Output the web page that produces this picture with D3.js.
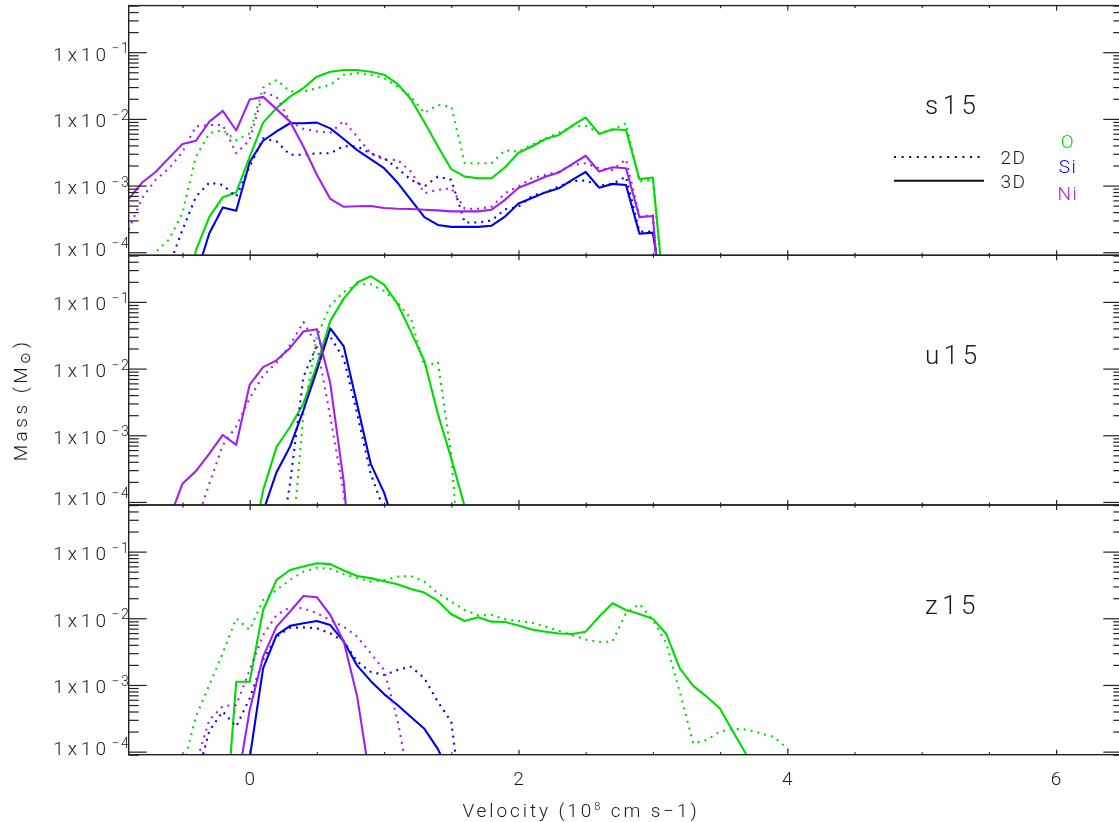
<!DOCTYPE html>
<html>
<head>
<meta charset="utf-8">
<script src="https://cdn.jsdelivr.net/npm/d3@7"></script>
<style>
  body { margin: 0; background: #fff; }
  svg { display: block; will-change: transform; }
  text { font-family: Roboto, "DejaVu Sans", sans-serif; font-weight: 300; fill: #1a1a1a; }
</style>
</head>
<body>
<svg id="chart" width="1119" height="822"></svg>
<script>
// ---- velocity bins (10^8 cm/s) ----
const s15Velocity = [-0.9,-0.8,-0.7,-0.6,-0.5,-0.4,-0.3,-0.2,-0.1,0.0,0.1,0.2,0.3,0.4,0.5,0.6,0.7,0.8,0.9,1.0,
  1.1,1.2,1.3,1.4,1.5,1.6,1.7,1.8,1.9,2.0,2.1,2.2,2.3,2.4,2.5,2.6,2.7,2.8,2.9,3.0,3.1];
const u15Velocity = [-0.6,-0.5,-0.4,-0.3,-0.2,-0.1,0.0,0.1,0.2,0.3,0.4,0.5,0.6,0.7,0.8,0.9,1.0,1.1,1.2,1.3,1.4,1.5,1.6,1.7];
const z15Velocity = [-0.5,-0.4,-0.3,-0.2,-0.1,0.0,0.1,0.2,0.3,0.4,0.5,0.6,0.7,0.8,0.9,1.0,1.1,1.2,1.3,1.4,1.5,
  1.6,1.7,1.8,1.9,2.0,2.1,2.2,2.3,2.4,2.5,2.6,2.7,2.8,2.9,3.0,3.1,3.2,3.3,3.4,3.5,3.6,3.7,3.8,3.9,4.0,4.1];

// ---- mass per bin (solar masses); null = no data ----
// s15
const s15_O_3D = [null,null,null,null,1e-5,1.07e-4,3.4e-4,6.7e-4,7.9e-4,2.7e-3,8.8e-3,1.45e-2,2.16e-2,2.9e-2,4.3e-2,5.1e-2,5.4e-2,5.4e-2,5.1e-2,4.6e-2,
  3.35e-2,1.97e-2,8.9e-3,3.9e-3,1.76e-3,1.36e-3,1.29e-3,1.29e-3,1.88e-3,3.1e-3,3.85e-3,5.0e-3,5.75e-3,7.9e-3,1.05e-2,5.95e-3,7.0e-3,6.8e-3,1.25e-3,1.32e-3,1e-5];
const s15_O_2D = [null,1e-5,1.0e-4,1.55e-4,3.85e-4,2.7e-3,6.1e-3,6.8e-3,4.8e-3,6.1e-3,2.95e-2,3.85e-2,2.57e-2,2.57e-2,2.9e-2,3.25e-2,4.6e-2,4.85e-2,4.6e-2,4.1e-2,
  3.05e-2,2.16e-2,1.22e-2,1.62e-2,1.53e-2,2.16e-3,2.16e-3,2.16e-3,3.4e-3,3.2e-3,4.1e-3,5.1e-3,6.2e-3,7.7e-3,7.9e-3,6.2e-3,6.8e-3,8.6e-3,1.15e-3,1.23e-3,1e-5];
const s15_Si_3D = [null,null,null,null,null,4.4e-5,1.93e-4,4.7e-4,4.2e-4,2.24e-3,4.7e-3,6.5e-3,8.6e-3,8.6e-3,8.8e-3,7.2e-3,5.0e-3,3.4e-3,2.5e-3,1.82e-3,
  1.11e-3,6.1e-4,3.36e-4,2.57e-4,2.4e-4,2.4e-4,2.4e-4,2.5e-4,3.43e-4,5.4e-4,6.5e-4,7.9e-4,9.1e-4,1.22e-3,1.6e-3,9.3e-4,1.06e-3,1.02e-3,1.89e-4,1.97e-4,1e-5];
const s15_Si_2D = [null,null,null,6.2e-5,2.17e-4,6.8e-4,1.11e-3,1.02e-3,6.8e-4,1.93e-3,5.1e-3,4.6e-3,2.9e-3,2.9e-3,3.05e-3,3.05e-3,3.9e-3,3.85e-3,3.05e-3,2.57e-3,
  1.82e-3,1.22e-3,9.7e-4,1.36e-3,1.22e-3,2.8e-4,2.8e-4,3.0e-4,4.4e-4,4.8e-4,7.0e-4,7.9e-4,9.7e-4,1.17e-3,1.19e-3,9.9e-4,1.06e-3,1.36e-3,2.04e-4,2.04e-4,1e-5];
const s15_Ni_3D = [6.3e-4,1.11e-3,1.6e-3,2.6e-3,4.2e-3,4.7e-3,9.1e-3,1.32e-2,6.7e-3,1.95e-2,2.14e-2,1.4e-2,9.1e-3,3.85e-3,1.45e-3,6.3e-4,4.8e-4,4.9e-4,4.95e-4,4.6e-4,
  4.5e-4,4.45e-4,4.35e-4,4.25e-4,4.1e-4,4.1e-4,4.1e-4,4.35e-4,6.1e-4,9.3e-4,1.11e-3,1.36e-3,1.57e-3,2.1e-3,2.8e-3,1.62e-3,1.88e-3,1.82e-3,3.36e-4,3.5e-4,1e-6];
const s15_Ni_2D = [2.17e-4,6.5e-4,1.22e-3,1.82e-3,3.2e-3,7.7e-3,8.1e-3,8.1e-3,3.05e-3,4.8e-3,2.5e-2,2.16e-2,9.1e-3,7.1e-3,6.5e-3,6.2e-3,9.3e-3,5.4e-3,3.05e-3,2.43e-3,
  2.43e-3,1.62e-3,7.7e-4,8.6e-4,9.1e-4,4.5e-4,4.5e-4,4.8e-4,7.7e-4,9.7e-4,1.29e-3,1.45e-3,1.62e-3,2.04e-3,2.16e-3,1.82e-3,1.72e-3,2.48e-3,3.43e-4,3.6e-4,1e-6];

// u15
const u15_O_3D = [null,null,null,null,null,null,1.5e-5,1.5e-4,6.7e-4,1.33e-3,3.0e-3,1.12e-2,5.2e-2,0.112,0.195,0.243,0.182,9.4e-2,3.55e-2,1.3e-2,2.1e-3,4.5e-4,8.5e-5,null];
const u15_O_2D = [null,null,null,null,null,null,null,null,null,1e-5,2.1e-3,3.0e-2,8.9e-2,0.141,0.184,0.184,0.146,9.8e-2,5.6e-2,1.06e-2,1.26e-2,5.0e-4,1.2e-6,null];
const u15_Si_3D = [null,null,null,null,null,null,null,7.2e-5,2.8e-4,6.7e-4,2.37e-3,9.4e-3,4.0e-2,2.16e-2,2.9e-3,3.76e-4,1.38e-4,3.2e-5,null,null,null,null,null,null];
const u15_Si_2D = [null,null,null,null,null,null,null,null,1e-5,1.88e-4,7.5e-3,2.24e-2,3.0e-2,1.41e-2,2.1e-3,2.66e-4,7.5e-5,null,null,null,null,null,null,null];
const u15_Ni_3D = [5.4e-5,1.88e-4,2.9e-4,5.3e-4,1.01e-3,7.2e-4,5.75e-3,1.05e-2,1.33e-2,2.04e-2,3.6e-2,3.9e-2,5.95e-3,2.0e-4,1e-6,null,null,null,null,null,null,null,null,null];
const u15_Ni_2D = [null,null,4.7e-5,1.88e-4,7.1e-4,1.36e-3,3.55e-3,7.9e-3,1.22e-2,2.24e-2,5.0e-2,2.24e-2,1.88e-3,1.33e-4,1e-6,null,null,null,null,null,null,null,null,null];

// z15
const z15_O_3D = [null,null,null,2.5e-6,1.12e-3,1.12e-3,1.33e-2,3.76e-2,5.3e-2,6.0e-2,6.7e-2,6.5e-2,5.2e-2,4.3e-2,4.0e-2,3.6e-2,3.24e-2,2.75e-2,2.43e-2,1.82e-2,1.15e-2,
  9.1e-3,1.04e-2,8.9e-3,8.8e-3,7.8e-3,6.8e-3,6.3e-3,5.9e-3,5.8e-3,6.3e-3,1.06e-2,1.68e-2,1.33e-2,1.16e-2,9.8e-3,5.8e-3,1.78e-3,9.7e-4,6.7e-4,4.4e-4,
  1.93e-4,8.7e-5,2.5e-5,null,null,null];
const z15_O_2D = [5.5e-5,3.35e-4,1.0e-3,3.0e-3,1.0e-2,6.7e-3,1.88e-2,2.66e-2,3.76e-2,5.0e-2,5.75e-2,5.5e-2,4.6e-2,4.0e-2,3.55e-2,3.76e-2,4.2e-2,4.3e-2,3.55e-2,2.37e-2,1.78e-2,
  1.33e-2,1.11e-2,1.12e-2,9.7e-3,9.1e-3,8.6e-3,7.5e-3,6.5e-3,5.6e-3,4.8e-3,4.4e-3,4.5e-3,1.19e-2,1.64e-2,9.4e-3,4.2e-3,7.9e-4,1.33e-4,1.5e-4,2.0e-4,
  2.2e-4,2.14e-4,1.9e-4,1.66e-4,1.12e-4,5.0e-5];
const z15_Si_3D = [null,null,null,null,null,7.9e-5,1.78e-3,5.6e-3,7.7e-3,8.4e-3,9.1e-3,7.9e-3,4.5e-3,1.95e-3,1.15e-3,7.3e-4,5.0e-4,3.3e-4,2.2e-4,1.1e-4,4.0e-5,
  null,null,null,null,null,null,null,null,null,null,null,null,null,null,null,null,null,null,null,null,null,null,null,null,null,null];
const z15_Si_2D = [null,3.6e-5,2.07e-4,4.0e-4,2.37e-4,6.3e-4,2.37e-3,5.3e-3,7.2e-3,7.3e-3,7.1e-3,5.95e-3,4.5e-3,2.24e-3,1.58e-3,1.41e-3,1.68e-3,1.88e-3,1.26e-3,5.6e-4,2.8e-4,
  8e-6,null,null,null,null,null,null,null,null,null,null,null,null,null,null,null,null,null,null,null,null,null,null,null,null,null];
const z15_Ni_3D = [null,null,null,null,2.6e-5,4.2e-4,2.66e-3,7.5e-3,1.26e-2,2.16e-2,2.07e-2,1.12e-2,4.5e-3,6.7e-4,3.35e-5,
  null,null,null,null,null,null,null,null,null,null,null,null,null,null,null,null,null,null,null,null,null,null,null,null,null,null,null,null,null,null,null,null];
const z15_Ni_2D = [null,6.5e-5,3.0e-4,4.8e-4,5.0e-4,1.68e-3,5.6e-3,1.12e-2,1.46e-2,1.41e-2,1.19e-2,9.4e-3,7.5e-3,5.3e-3,3.0e-3,1.68e-3,3.0e-4,2.5e-5,
  null,null,null,null,null,null,null,null,null,null,null,null,null,null,null,null,null,null,null,null,null,null,null,null,null,null,null,null,null];

// ---- labels and ticks ----
const modelNames = ["s15", "u15", "z15"];
const elementNames = ["O", "Si", "Ni"];
const elementColors = ["#00dc00", "#0000f0", "#a020f0"];
const dimensionNames = ["2D", "3D"];
const yTickValues = [1e-4, 1e-3, 1e-2, 1e-1];
const yTickExponents = ["\u22124", "\u22123", "\u22122", "\u22121"];
const xTickValues = [0, 2, 4, 6];
const xMinorTickValues = [-0.5, 0.5, 1, 1.5, 2.5, 3, 3.5, 4.5, 5, 5.5, 6.5];

const panels = [
  { name: modelNames[0], v: s15Velocity, series: [[s15_O_2D, s15_O_3D], [s15_Si_2D, s15_Si_3D], [s15_Ni_2D, s15_Ni_3D]] },
  { name: modelNames[1], v: u15Velocity, series: [[u15_O_2D, u15_O_3D], [u15_Si_2D, u15_Si_3D], [u15_Ni_2D, u15_Ni_3D]] },
  { name: modelNames[2], v: z15Velocity, series: [[z15_O_2D, z15_O_3D], [z15_Si_2D, z15_Si_3D], [z15_Ni_2D, z15_Ni_3D]] }
];

// ---- geometry ----
const left = 128.7, right = 1123.3;
const panelTop = 5.6, panelH = 249.7;
const svg = d3.select("#chart");
const x = d3.scaleLinear().domain([-0.9, 6.5]).range([left, right]);
const frameColor = "#222";

const minorY = [];
for (let k = -5; k <= -1; k++) for (let m = 2; m <= 9; m++) {
  const v = m * Math.pow(10, k);
  if (v >= 9e-5 && v <= 0.5) minorY.push(v);
}

const defs = svg.append("defs");

panels.forEach((p, i) => {
  const y0 = panelTop + i * panelH;
  const y = d3.scaleLog().domain([9e-5, 0.5]).range([y0 + panelH, y0]);
  const g = svg.append("g");

  defs.append("clipPath").attr("id", "clip" + i)
    .append("rect").attr("x", left).attr("y", y0).attr("width", right - left).attr("height", panelH);

  const line = d3.line()
    .defined(d => d[1] != null)
    .x(d => x(d[0]))
    .y(d => y(d[1]));

  const plot = g.append("g").attr("clip-path", `url(#clip${i})`);
  p.series.forEach((pair, e) => {
    pair.forEach((vals, dIdx) => {
      const pts = p.v.map((v, j) => [v, vals[j]]);
      plot.append("path")
        .attr("d", line(pts))
        .attr("fill", "none")
        .attr("stroke", elementColors[e])
        .attr("stroke-width", 2.1)
        .attr("stroke-linejoin", "round")
        .attr("stroke-dasharray", dIdx === 0 ? "2,5" : null);
    });
  });

  // y ticks (left and right, pointing inward)
  const styleAxis = sel => {
    sel.select(".domain").remove();
    sel.selectAll("line").attr("stroke", frameColor).attr("stroke-width", 1.2);
  };
  g.append("g").attr("transform", `translate(${left},0)`)
    .call(d3.axisLeft(y).tickValues(yTickValues).tickSize(-18).tickFormat("")).call(styleAxis);
  g.append("g").attr("transform", `translate(${left},0)`)
    .call(d3.axisLeft(y).tickValues(minorY).tickSize(-10).tickFormat("")).call(styleAxis);
  g.append("g").attr("transform", `translate(${right},0)`)
    .call(d3.axisRight(y).tickValues(yTickValues).tickSize(-20).tickFormat("")).call(styleAxis);
  g.append("g").attr("transform", `translate(${right},0)`)
    .call(d3.axisRight(y).tickValues(minorY).tickSize(-10).tickFormat("")).call(styleAxis);

  // x ticks (top and bottom, pointing inward)
  g.append("g").attr("transform", `translate(0,${y0 + panelH})`)
    .call(d3.axisBottom(x).tickValues(xTickValues).tickSize(-5).tickFormat("")).call(styleAxis);
  g.append("g").attr("transform", `translate(0,${y0 + panelH})`)
    .call(d3.axisBottom(x).tickValues(xMinorTickValues).tickSize(-2.5).tickFormat("")).call(styleAxis);
  g.append("g").attr("transform", `translate(0,${y0})`)
    .call(d3.axisTop(x).tickValues(xTickValues).tickSize(-5).tickFormat("")).call(styleAxis);
  g.append("g").attr("transform", `translate(0,${y0})`)
    .call(d3.axisTop(x).tickValues(xMinorTickValues).tickSize(-2.5).tickFormat("")).call(styleAxis);

  // frame
  g.append("rect").attr("x", left).attr("y", y0).attr("width", right - left).attr("height", panelH)
    .attr("fill", "none").attr("stroke", frameColor).attr("stroke-width", 1.4);

  // y tick labels 1x10^n
  yTickValues.forEach((tv, k) => {
    const base = y(tv) + (k === 0 ? 3.5 : 8.4);
    g.append("text").attr("x", 110).attr("y", base).attr("text-anchor", "end")
      .attr("font-size", 19).attr("letter-spacing", 4).text("1x10");
    g.append("text").attr("x", 111.5).attr("y", base - 7.4)
      .attr("font-size", 14).attr("letter-spacing", 1.5).text(yTickExponents[k]);
  });

  // model label
  g.append("text").attr("x", 925).attr("y", y0 + 108.5)
    .attr("font-size", 26).attr("letter-spacing", 4.5).text(p.name);
});

// x tick labels
xTickValues.forEach(v => {
  svg.append("text").attr("x", x(v)).attr("y", 785).attr("text-anchor", "middle")
    .attr("font-size", 19).text(v);
});

// axis titles
const xt = svg.append("text").attr("x", 581).attr("y", 817).attr("text-anchor", "middle")
  .attr("font-size", 19).attr("letter-spacing", 2.9);
xt.append("tspan").text("Velocity (10");
xt.append("tspan").attr("font-size", 11).attr("dy", -7).text("8");
xt.append("tspan").attr("dy", 7).text(" cm s\u22121)");

const yt = svg.append("text").attr("transform", "translate(27,400) rotate(-90)")
  .attr("text-anchor", "middle").attr("font-size", 19).attr("letter-spacing", 3.5);
yt.append("tspan").text("Mass (M");
yt.append("tspan").attr("font-size", 14).attr("dy", 3).text("\u2299");
yt.append("tspan").attr("dy", -3).text(")");

// legend: line style
const legend = svg.append("g");
[157, 180.7].forEach((ly, k) => {
  legend.append("line").attr("x1", 894).attr("x2", 984).attr("y1", ly).attr("y2", ly)
    .attr("stroke", "#111").attr("stroke-width", 2)
    .attr("stroke-dasharray", k === 0 ? "2,5.6" : null);
  legend.append("text").attr("x", 1000.5).attr("y", ly + 7.3).attr("font-size", 19)
    .attr("letter-spacing", 1.5).text(dimensionNames[k]);
});
// legend: element colours
[148, 173.3, 199.5].forEach((ly, k) => {
  legend.append("text").attr("x", 1068).attr("y", ly).attr("text-anchor", "middle")
    .attr("font-size", 19).attr("letter-spacing", 1.5)
    .style("fill", elementColors[k]).text(elementNames[k]);
});
</script>
</body>
</html>
